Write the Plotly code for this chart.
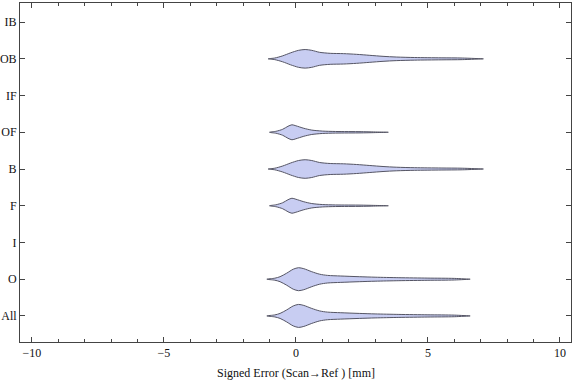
import plotly.graph_objects as go

categories = ["All", "O", "I", "F", "B", "OF", "IF", "OB", "IB"]

# density profiles (signed error positions, relative half-widths)
ob_x = [-1.05, -0.8, -0.5, -0.2, 0.1, 0.35, 0.6, 0.9, 1.3, 1.8, 2.3, 2.8, 3.3, 3.8, 4.5, 5.5, 6.3, 7.1]
ob_w = [0.0, 0.8, 3.0, 6.0, 8.5, 9.3, 8.5, 6.5, 5.5, 5.2, 4.5, 3.5, 2.5, 1.8, 1.3, 1.0, 0.8, 0.0]

of_x = [-1.0, -0.75, -0.5, -0.3, -0.15, 0.0, 0.3, 0.6, 1.0, 1.5, 2.5, 3.5]
of_w = [0.0, 1.0, 3.0, 6.0, 7.5, 6.5, 4.0, 2.2, 1.2, 0.8, 0.6, 0.0]

all_x = [-1.1, -0.8, -0.6, -0.35, -0.1, 0.1, 0.3, 0.6, 0.9, 1.2, 1.7, 2.4, 3.0, 3.9, 5.0, 6.0, 6.6]
all_w = [0.0, 1.0, 2.5, 6.0, 10.0, 11.5, 10.5, 7.5, 5.0, 3.8, 3.2, 2.5, 2.0, 1.5, 1.1, 0.8, 0.0]

profiles = {
    "All": (all_x, all_w),
    "O": (all_x, all_w),
    "F": (of_x, of_w),
    "B": (ob_x, ob_w),
    "OF": (of_x, of_w),
    "OB": (ob_x, ob_w),
}

SCALE = 1 / 36.75
FILL = "rgb(200,205,242)"
EDGE = "rgb(85,85,100)"
FONT = "Liberation Serif"

fig = go.Figure()
for name, (xs, ws) in profiles.items():
    c = categories.index(name)
    px = list(xs) + list(xs[::-1])
    py = [c + w * SCALE for w in ws] + [c - w * SCALE for w in ws[::-1]]
    fig.add_trace(go.Scatter(
        x=px, y=py, mode="lines", fill="toself", fillcolor=FILL,
        line=dict(color=EDGE, width=1, shape="spline", smoothing=0.8),
        hoverinfo="skip", showlegend=False,
    ))

axis_common = dict(
    showgrid=False, zeroline=False, showline=True, linecolor="#444", linewidth=1,
    mirror="ticks", ticks="inside", tickcolor="#444", automargin=False,
    tickfont=dict(family=FONT, size=12, color="#111"),
)

fig.update_xaxes(
    range=[-10.45, 10.42], tickvals=[-10, -5, 0, 5, 10],
    ticktext=["\u221210", "\u22125", "0", "5", "10"], ticklen=5,
    minor=dict(dtick=1, ticks="inside", ticklen=3, tickcolor="#444"),
    **axis_common,
)
fig.update_yaxes(
    range=[-0.71, 8.52], tickvals=list(range(len(categories))), ticktext=categories, ticklen=5,
    ticklabelstandoff=0,
    **axis_common,
)
fig.add_annotation(
    text="Signed Error (Scan\u2192Ref ) [mm]", xref="paper", yref="paper",
    x=0.5, y=-0.092, yanchor="middle", showarrow=False,
    font=dict(family=FONT, size=12, color="#111"),
)
fig.update_layout(
    width=576, height=381, margin=dict(l=20, r=5, t=3, b=39),
    paper_bgcolor="white", plot_bgcolor="white",
)
fig.write_html("out.html", config={"displayModeBar": False},
               post_script="document.body.style.margin='0';document.body.style.overflow='hidden';")
